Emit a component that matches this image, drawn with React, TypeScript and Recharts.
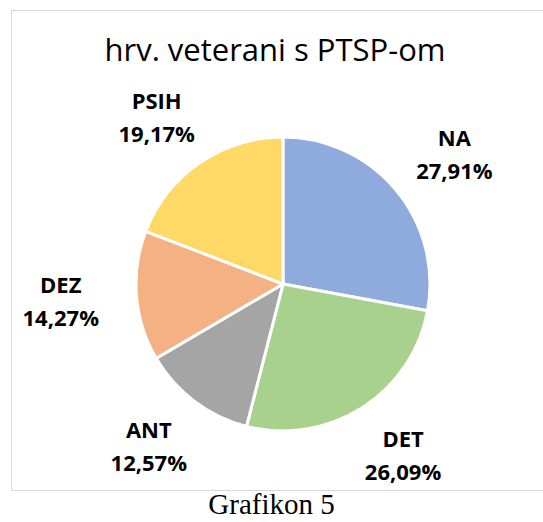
import { PieChart, Pie, Cell } from 'recharts'

const CATEGORIES = ['NA', 'DET', 'ANT', 'DEZ', 'PSIH']
const SHARES = [27.91, 26.09, 12.57, 14.27, 19.17]
const COLORS = ['#8FAADC', '#A9D18E', '#A5A5A5', '#F4B183', '#FFD966']

const data = CATEGORIES.map((name, i) => ({ name, value: SHARES[i] }))

const RAD = Math.PI / 180
const FONT = '"Open Sans", "Noto Sans", sans-serif'

// labels sit outside the pie on a slightly flattened ring
function renderLabel(props: any) {
  const { cx, cy, outerRadius, midAngle, index } = props
  const rx = outerRadius + 76
  const ry = outerRadius + 56
  const x = cx + rx * Math.cos(-midAngle * RAD)
  const y = cy + ry * Math.sin(-midAngle * RAD)
  return (
    <text
      x={x}
      y={y}
      textAnchor="middle"
      fontFamily={FONT}
      fontWeight={700}
      fontSize={22}
      fill="#000"
    >
      <tspan x={x} dy={-8}>{CATEGORIES[index]}</tspan>
      <tspan x={x} dy={33}>{SHARES[index].toFixed(2).replace('.', ',')}%</tspan>
    </text>
  )
}

export default function App() {
  return (
    <div style={{ position: 'absolute', left: 0, top: 0, width: 543, height: 522, background: '#fff' }}>
      <div
        style={{
          position: 'absolute',
          left: 11,
          top: 10,
          width: 540,
          height: 479,
          border: '1px solid #d9d9d9',
        }}
      />
      <div
        style={{
          position: 'absolute',
          left: 0,
          top: 28,
          width: 550,
          textAlign: 'center',
          fontFamily: FONT,
          fontSize: 31,
          color: '#000',
        }}
      >
        hrv. veterani s PTSP-om
      </div>
      <div style={{ position: 'absolute', left: 0, top: 0 }}>
        <PieChart width={543} height={500} margin={{ top: 0, right: 0, bottom: 0, left: 0 }}>
          <Pie
            data={data}
            dataKey="value"
            cx={283}
            cy={284}
            outerRadius={147}
            startAngle={90}
            endAngle={-270}
            stroke="#fff"
            strokeWidth={3}
            label={renderLabel}
            labelLine={false}
            isAnimationActive={false}
          >
            {data.map((d, i) => (
              <Cell key={d.name} fill={COLORS[i]} />
            ))}
          </Pie>
        </PieChart>
      </div>
      <div
        style={{
          position: 'absolute',
          left: 0,
          top: 488,
          width: 543,
          textAlign: 'center',
          fontFamily: '"Liberation Serif", "Times New Roman", serif',
          fontSize: 29,
          color: '#000',
        }}
      >
        Grafikon 5
      </div>
    </div>
  )
}
